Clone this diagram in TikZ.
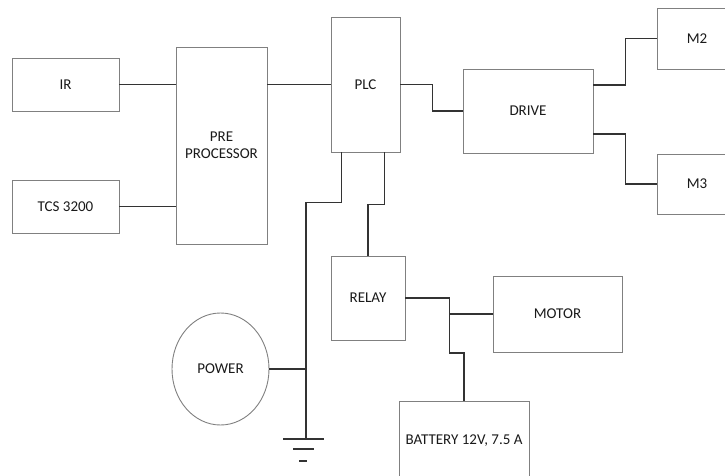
\documentclass[tikz,border=0pt]{standalone}
\usepackage{fontspec}
\setmainfont{Carlito}
\usetikzlibrary{calc,shapes.geometric}
\definecolor{boxgray}{HTML}{808080}
\definecolor{wire}{HTML}{333333}
\definecolor{txt}{HTML}{1a1a1a}
\tikzset{
  blk/.style={draw=boxgray, line width=0.9pt, rectangle, inner sep=0pt, text=txt, align=center, font=\fontsize{15}{17}\selectfont},
  wr/.style={draw=wire, line width=1.3pt},
}
\begin{document}
\begin{tikzpicture}[x=1pt,y=-1pt]
\useasboundingbox (0,0) rectangle (725,476);
\clip (0,0) rectangle (725,476);
\fill[white] (0,0) rectangle (725,476);
\node[blk, minimum width=107, minimum height=53] (ir) at (65.5,84.5) {IR};
\node[blk, minimum width=107, minimum height=53] (tcs) at (65.5,206.5) {TCS 3200};
\node[blk, minimum width=91, minimum height=197] (pre) at (221.5,145.5) {PRE\\PROCESSOR};
\node[blk, minimum width=69, minimum height=135] (plc) at (365.5,84.5) {PLC};
\node[blk, minimum width=130, minimum height=84] (drive) at (528,111) {DRIVE};
\node[blk, minimum width=80, minimum height=61] (m2) at (697,38.5) {M2};
\node[blk, minimum width=80, minimum height=60] (m3) at (697,184) {M3};
\node[blk, minimum width=74, minimum height=84] (relay) at (368,298) {RELAY};
\node[blk, minimum width=129, minimum height=76] (motor) at (557.5,314) {MOTOR};
\node[blk, minimum width=130, minimum height=80] (bat) at (464,441) {BATTERY 12V, 7.5 A};
\node[blk, ellipse, minimum width=97, minimum height=112] (pw) at (220.5,369) {POWER};
\coordinate (g) at (306,439);
% connectors
\draw[wr] (ir.east) -- (ir.east -| pre.west);
\draw[wr] (tcs.east) -- (tcs.east -| pre.west);
\draw[wr] (pre.east |- plc.west) -- (plc.west);
\draw[wr] (plc.east) -- ++(32,0) |- (drive.west);
\draw[wr] ($(drive.east)+(0,-26)$) -- ++(32,0) |- (m2.west);
\draw[wr] ($(drive.east)+(0,23)$) -- ++(32,0) |- (m3.west);
\draw[wr] ($(plc.south west)+(11,0)$) -- ++(0,50) -| (g);
\draw[wr] (pw.east) -- (pw.east -| g);
\draw[wr] ($(plc.south west)+(54,0)$) -- ++(0,52) -| (relay.north);
\draw[wr] (relay.east) -- ++(44,0) coordinate (j) -- ++(0,55) -| (bat.north);
\draw[wr] (motor.west) -- (motor.west -| j);
% ground symbol
\draw[wr] ($(g)+(-23,0)$) -- ($(g)+(18,0)$);
\draw[wr] ($(g)+(-13,10)$) -- ($(g)+(8,10)$);
\draw[wr] ($(g)+(-7,22)$) -- ($(g)+(1,22)$);
\end{tikzpicture}
\end{document}
